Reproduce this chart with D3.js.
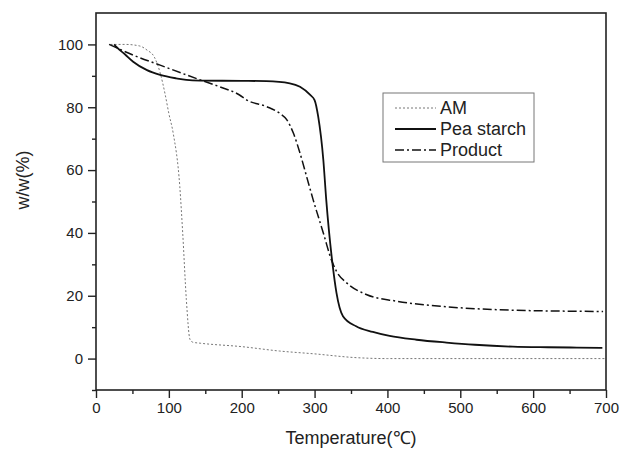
<!DOCTYPE html>
<html>
<head>
<meta charset="utf-8">
<script src="https://cdn.jsdelivr.net/npm/d3@7"></script>
<style>
  body { margin: 0; background: #fff; }
  svg { display: block; font-family: Arial, "Liberation Sans", sans-serif; }
</style>
</head>
<body>
<div id="chart"></div>
<script>
// TGA curves
var amTemp = [20, 40, 60, 70, 80, 88, 95, 100, 106, 115, 119, 124, 129, 133, 143, 200, 252, 300, 357, 400, 500, 600, 700];
var amValue = [100, 100, 99.5, 98.2, 96, 91, 84, 78, 71.7, 54.8, 40, 18.8, 6.1, 5.2, 4.9, 3.8, 2.4, 1.5, 0.3, 0, 0, 0, 0];

var peaTemp = [25, 28, 40, 51, 70, 88, 110, 124, 143, 200, 234, 266, 280, 294, 300, 305, 312, 316, 325, 330, 339, 357, 380, 403, 440, 481, 520, 572, 620, 660, 695];
var peaValue = [100, 99.2, 96.8, 94.5, 91.8, 90.3, 89.2, 88.7, 88.5, 88.4, 88.3, 87.6, 86.5, 83.9, 82.3, 77, 63.3, 50.6, 29.4, 21, 13.5, 10.3, 8.5, 7.2, 6, 5.1, 4.4, 3.8, 3.6, 3.5, 3.4];

var productTemp = [18, 51, 88, 143, 170, 197, 207, 234, 252, 262, 271, 280, 289, 298, 312, 323, 330, 344, 371, 412, 481, 572, 696];
var productValue = [100, 96.6, 93.4, 88.7, 86.5, 83.9, 82.3, 80.2, 78.1, 76, 71.7, 65.4, 58, 50.6, 40, 31.5, 27.8, 24.1, 20.4, 18.3, 16.5, 15.4, 15];

var seriesNames = ['AM', 'Pea starch', 'Product'];
var xTicks = [0, 100, 200, 300, 400, 500, 600, 700];
var yTicks = [0, 20, 40, 60, 80, 100];

// Chart size
var width = 623;
var height = 451;
var margin = { top: 13, right: 17, bottom: 61, left: 96 };
var innerWidth = width - margin.left - margin.right;
var innerHeight = height - margin.top - margin.bottom;
var fontFamily = 'Arial, "Liberation Sans", sans-serif';

var svg = d3.select('#chart')
            .append('svg')
            .attr('width', width)
            .attr('height', height);

var g = svg.append('g')
           .attr('transform', 'translate(' + margin.left + ',' + margin.top + ')');

// Scales
var x = d3.scaleLinear()
          .domain([0, 700])
          .range([0, innerWidth]);
var y = d3.scaleLinear()
          .domain([-10, 110])
          .range([innerHeight, 0]);

// Minor ticks
var xMinor = d3.range(50, 700, 100);
var yMinor = d3.range(-10, 110, 20);

var axisColor = '#222';

// Bottom axis
var xAxis = g.append('g')
             .attr('transform', 'translate(0,' + innerHeight + ')')
             .call(d3.axisBottom(x).tickValues(xTicks).tickSize(8).tickPadding(4));
var xAxisMinor = g.append('g')
                  .attr('transform', 'translate(0,' + innerHeight + ')')
                  .call(d3.axisBottom(x).tickValues(xMinor).tickSize(4));

// Left axis
var yAxis = g.append('g')
             .call(d3.axisLeft(y).tickValues(yTicks).tickSize(8).tickPadding(5));
var yAxisMinor = g.append('g')
                  .call(d3.axisLeft(y).tickValues(yMinor).tickSize(4));

// minor ticks carry no labels
xAxisMinor.selectAll('text').remove();
yAxisMinor.selectAll('text').remove();

[xAxis, xAxisMinor, yAxis, yAxisMinor].forEach(function (a) {
  a.attr('font-family', fontFamily)
   .attr('font-size', 15);
  a.select('.domain').remove();
  a.selectAll('line').attr('stroke', axisColor).attr('stroke-width', 1.4);
  a.selectAll('text').attr('fill', '#222');
});

// Frame
g.append('rect')
 .attr('x', 0)
 .attr('y', 0)
 .attr('width', innerWidth)
 .attr('height', innerHeight)
 .attr('fill', 'none')
 .attr('stroke', axisColor)
 .attr('stroke-width', 1.6);

// Lines
var line = d3.line()
             .x(function (d) { return x(d[0]); })
             .y(function (d) { return y(d[1]); })
             .curve(d3.curveMonotoneX);

var series = [
  { name: seriesNames[0], temp: amTemp, value: amValue, stroke: '#777', width: 1, dash: '2,2' },
  { name: seriesNames[1], temp: peaTemp, value: peaValue, stroke: '#111', width: 1.8, dash: null },
  { name: seriesNames[2], temp: productTemp, value: productValue, stroke: '#111', width: 1.5, dash: '9,3,2,3' }
];

series.forEach(function (s) {
  g.append('path')
   .datum(d3.zip(s.temp, s.value))
   .attr('fill', 'none')
   .attr('stroke', s.stroke)
   .attr('stroke-width', s.width)
   .attr('stroke-dasharray', s.dash)
   .attr('d', line);
});

// Legend
var legend = svg.append('g')
                .attr('transform', 'translate(383,93)');
legend.append('rect')
      .attr('width', 151)
      .attr('height', 69)
      .attr('fill', '#fff')
      .attr('stroke', '#777')
      .attr('stroke-width', 1);

series.forEach(function (s, i) {
  var ly = 15 + i * 21;
  legend.append('line')
        .attr('x1', 12)
        .attr('x2', 53)
        .attr('y1', ly)
        .attr('y2', ly)
        .attr('stroke', s.stroke)
        .attr('stroke-width', s.width)
        .attr('stroke-dasharray', s.dash);
  legend.append('text')
        .attr('x', 57)
        .attr('y', ly + 6)
        .attr('fill', '#222')
        .attr('font-size', 18)
        .text(s.name);
});

// Axis titles
svg.append('text')
   .attr('x', margin.left + innerWidth / 2)
   .attr('y', 444)
   .attr('text-anchor', 'middle')
   .attr('fill', '#222')
   .attr('font-size', 18)
   .text('Temperature(℃)');

svg.append('text')
   .attr('transform', 'translate(29,180) rotate(-90)')
   .attr('text-anchor', 'middle')
   .attr('fill', '#222')
   .attr('font-size', 18)
   .text('w/w(%)');
</script>
</body>
</html>
